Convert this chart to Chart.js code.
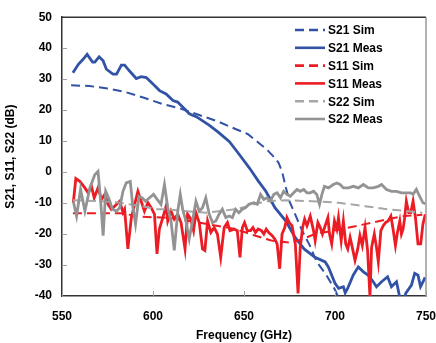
<!DOCTYPE html>
<html>
<head>
<meta charset="utf-8">
<script src="https://cdn.jsdelivr.net/npm/chart.js@4.4.1/dist/chart.umd.min.js"></script>
<style>
  html, body { margin: 0; padding: 0; background: #fff; }
</style>
</head>
<body>
<canvas id="myChart" width="436" height="343"></canvas>
<script>
// values (frequency in GHz, level in dB)
const s21SimFreq = [555, 565, 575, 585, 595, 605, 615, 625, 635, 645, 652, 658, 663, 667, 669, 671, 673, 675, 678, 682, 686, 690, 695, 700, 703];
const s21SimDb   = [28, 27.8, 27, 25.8, 24, 22, 20.5, 18.5, 16.5, 14, 12.3, 9.5, 7, 4.5, 3, 0, -5, -9.5, -13.5, -19, -23.5, -29, -33, -38, -42];

const s21MeasFreq = [556, 559, 561.6, 563.8, 566.8, 568, 570.4, 572.6, 574.4, 578, 580, 582.6, 584.4, 587, 590.8, 593.5, 596.3, 600, 603.6, 607.2, 611, 613.5, 616.3, 620, 624, 631, 636, 642, 647, 653, 658, 662, 667, 673, 678, 683, 689, 694.6, 696.4, 700, 702, 704.6, 705.6, 707, 710, 712.8, 715.6, 718.3, 721, 722.8, 725.6, 728.9, 731, 733.8, 735.6, 737, 739, 742, 743.8, 745.6, 747, 748.4, 749.5];
const s21MeasDb   = [32.1, 34.8, 36.4, 38, 35.5, 35.5, 37.2, 35.9, 33.2, 31.6, 31.6, 34.5, 34.5, 32.7, 30.2, 30.8, 30.5, 28.4, 26.3, 25.2, 23.1, 22.6, 21, 18.8, 17.8, 15.1, 12.8, 9.8, 6, 1.3, -3, -6.2, -11.5, -15.8, -21, -24.8, -27.5, -29, -30.7, -35.9, -37.5, -37, -39, -37.5, -33.3, -30.6, -32.2, -33.3, -35.4, -37, -35.4, -33.8, -37, -35.4, -40.5, -42, -39, -36.5, -32.7, -33.3, -37, -35.4, -34];

const s11SimFreq = [556, 582, 594, 609, 620, 632, 645.5, 655, 665, 674.6, 680, 689, 702, 716.5, 729, 738, 748];
const s11SimDb   = [-13.3, -13.3, -14.4, -14.8, -15.8, -17, -18.4, -20.3, -22.1, -22.7, -22.1, -20, -18.6, -16.8, -15.2, -14.2, -13.8];

const s11MeasFreq = [556.2, 557.6, 559.8, 562.6, 564.4, 566.2, 567.7, 569.8, 571.7, 573.5, 575.3, 577.1, 578.9, 581.7, 583.5, 584.4, 586.2, 588.1, 589.9, 591.7, 593.5, 595.3, 597.2, 599, 600.8, 602.2, 603.5, 605.4, 607.2, 608.1, 609.9, 611.7, 613.6, 615.4, 617.6, 619, 620.8, 622.3, 623.6, 625.4, 627.2, 628.5, 630, 631.8, 633.6, 635.4, 637.2, 639.1, 640.9, 642.3, 644.5, 646.3, 647.8, 649.1, 650.3, 651.8, 653.6, 654.9, 656.3, 657.8, 659.6, 660.9, 662.2, 663.6, 665.5, 666.9, 668.2, 669.6, 670.9, 672.4, 673.6, 674.9, 676.4, 678.2, 679.7, 680.9, 682.2, 683.3, 684.6, 686.4, 688.2, 689.1, 690.6, 691.9, 693.1, 694.6, 696.1, 697, 698.2, 699.7, 701, 701.9, 703.4, 704.6, 705.9, 707, 708.3, 709.5, 711, 712.5, 713.7, 715, 716.5, 717.9, 719.2, 720.1, 721.6, 722.8, 723.8, 725.2, 726.5, 727.8, 729.2, 730.7, 731.9, 733.2, 734.3, 735.6, 736.5, 737.4, 738.3, 739.2, 740.5, 741.6, 742.9, 744.2, 745.6, 747.1, 748.3, 749.6];
const s11MeasDb   = [-9.9, -2.1, -3, -5.1, -6.7, -4.6, -8.3, -5.1, -8.8, -7.2, -10.4, -12, -11, -9.4, -13.1, -12, -24.8, -14.7, -10.4, -6.2, -9.4, -12.6, -9.9, -11.5, -13.6, -26.4, -18.4, -14.7, -11, -15.8, -12.6, -15.2, -13.6, -16.3, -24.8, -13.6, -15.2, -18.9, -13.1, -16.3, -24.8, -25.3, -15.8, -19.5, -17.9, -20, -27.5, -17.9, -16.3, -18.9, -18.4, -18.9, -27.5, -17.9, -16.3, -18.9, -18.9, -17.9, -19.5, -18.4, -18.9, -20, -18.4, -19.5, -20.5, -21.6, -23.2, -31.2, -20, -17.9, -14.7, -16.3, -17.3, -23.2, -39.2, -24.3, -17.9, -15.2, -17.3, -14.2, -18.9, -22.1, -16.3, -17.9, -20, -17.3, -14.7, -20, -23.2, -15.8, -18.4, -14.7, -22.1, -15.8, -23.2, -24.8, -21.1, -24.3, -28.5, -24.8, -20.5, -23.7, -17.9, -25.3, -40.2, -24.3, -20, -24.3, -29, -18.9, -17.3, -16.3, -15.8, -14.2, -18.4, -23.7, -19.5, -15.8, -20, -18.4, -14.7, -9.4, -13.1, -13.1, -9.4, -14.7, -23.2, -23.2, -16.8, -13.6];

const s22SimFreq = [556, 572, 582, 587, 594, 601.7, 607, 618, 629, 645.5, 655, 661.9, 672.8, 687, 702, 716.5, 729, 748];
const s22SimDb   = [-9.1, -9.4, -9.9, -10.4, -11, -12, -12, -12.6, -13.1, -12, -10.5, -9.4, -9.1, -9.4, -9.9, -11, -12, -13.1];

const s22MeasFreq = [556.2, 558, 560.2, 562.6, 565.3, 568, 569.8, 571.1, 572.6, 574, 575.9, 577.7, 579.9, 581.7, 583.5, 585.3, 587.5, 589, 590.4, 592.3, 594.1, 595.9, 598.1, 600.3, 602.3, 604.4, 606.3, 608.1, 609.9, 611.7, 613.6, 615, 616.3, 618.1, 619.9, 621.7, 623.6, 625.4, 627.2, 629, 630.9, 632.7, 634.5, 636.3, 638.1, 640, 641.8, 643.6, 645.4, 647.2, 649.1, 650.9, 652.7, 655.4, 657.3, 659.1, 660.9, 662.7, 664.5, 666.4, 668.2, 670, 671.8, 673.6, 675.5, 677.3, 679.1, 680.9, 682.8, 684.6, 686.4, 688.2, 690, 691.5, 692.8, 694.2, 696.4, 699.1, 701, 702.8, 704.6, 707.4, 710.1, 712.8, 715.6, 718.3, 721, 723.8, 725.6, 728.3, 731, 733.8, 736.5, 739.2, 741.6, 742.9, 744.7, 746.5, 748.3, 749.6];
const s22MeasDb   = [-9.4, -14.2, -5.6, -12.6, -5.1, -0.9, 0.2, -8.3, -20.5, -6.2, -8.8, -12, -12.6, -11.5, -6.2, -3.5, -3, -11.5, -16.8, -7.8, -8.3, -9.4, -8.3, -7.2, -8.8, -10.4, -4, -11.5, -15.8, -25.3, -12.6, -7.2, -12, -15.8, -21.6, -15.8, -9.4, -12.6, -11.5, -8.3, -13.6, -16.3, -15.8, -13.6, -12, -14.7, -14.2, -14.7, -12, -13.1, -12, -11.5, -10.4, -9.9, -10.4, -7.2, -8.8, -8.3, -9.4, -7.2, -6.7, -8.3, -6.2, -7.2, -7.8, -6.7, -5.6, -6.2, -5.6, -6.7, -6.7, -6.2, -7.2, -10.4, -7.2, -4.6, -5.1, -4, -3.5, -4, -5.1, -5.1, -4.6, -5.1, -4, -5.1, -5.1, -4.6, -4, -5.6, -6.2, -6.2, -6.7, -6.7, -6.7, -7.2, -5.6, -7.8, -9.9, -10.2];

const xTicks = [550, 600, 650, 700, 750];
const yTicks = [-40, -30, -20, -10, 0, 10, 20, 30, 40, 50];

const BLUE = '#3252a5';
const RED = '#ec1c24';
const GRAY_SIM = '#a6a6a6';
const GRAY_MEAS = '#939393';
const FONT = 'Liberation Sans, Arial, sans-serif';

function pts(xs, ys) {
    return xs.map((x, i) => ({ x: x, y: ys[i] }));
}

function series(label, xs, ys, color, dashed, order) {
    return {
        label: label,
        data: pts(xs, ys),
        borderColor: color,
        backgroundColor: color,
        borderWidth: dashed ? 2 : 2.8,
        borderDash: dashed ? [9, 5] : [],
        pointRadius: 0,
        tension: 0,
        fill: false,
        order: order
    };
}

// legend drawn inside the plot, top right, like the original
const insideLegend = {
    id: 'insideLegend',
    afterDraw(chart) {
        const ctx = chart.ctx;
        ctx.save();
        chart.data.datasets.forEach((ds, i) => {
            const y = 30 + i * 17.8;
            ctx.strokeStyle = ds.borderColor;
            ctx.lineWidth = 2.6;
            ctx.setLineDash(ds.borderDash.length ? [9, 5] : []);
            ctx.beginPath();
            ctx.moveTo(295, y);
            ctx.lineTo(325, y);
            ctx.stroke();
            ctx.setLineDash([]);
            ctx.fillStyle = '#000';
            ctx.font = 'bold 12px ' + FONT;
            ctx.textBaseline = 'middle';
            ctx.textAlign = 'left';
            ctx.fillText(ds.label, 328, y + 1);
        });
        ctx.restore();
    }
};

// short inside tick marks and the top/right frame
const frameTicks = {
    id: 'frameTicks',
    afterDatasetsDraw(chart) {
        const ctx = chart.ctx;
        const a = chart.chartArea;
        const xs = chart.scales.x, ys = chart.scales.y;
        ctx.save();
        ctx.strokeStyle = '#a0a0a0';
        ctx.lineWidth = 1;
        yTicks.forEach(v => {
            const y = Math.round(ys.getPixelForValue(v)) + 0.5;
            ctx.beginPath(); ctx.moveTo(a.left, y); ctx.lineTo(a.left + 5, y); ctx.stroke();
        });
        xTicks.forEach(v => {
            const x = Math.round(xs.getPixelForValue(v)) + 0.5;
            ctx.beginPath(); ctx.moveTo(x, a.bottom); ctx.lineTo(x, a.bottom - 5); ctx.stroke();
        });
        ctx.strokeStyle = '#333';
        ctx.lineWidth = 1.5;
        ctx.beginPath(); ctx.moveTo(a.left, a.top); ctx.lineTo(a.right, a.top); ctx.stroke();
        ctx.strokeStyle = '#999';
        ctx.beginPath(); ctx.moveTo(a.right, a.top); ctx.lineTo(a.right, a.bottom); ctx.stroke();
        ctx.restore();
    }
};

const ctx = document.getElementById('myChart');

const aChart = new Chart(ctx, {
    type: 'line',
    data: {
        datasets: [
            series('S21 Sim', s21SimFreq, s21SimDb, BLUE, true, 5),
            series('S21 Meas', s21MeasFreq, s21MeasDb, BLUE, false, 4),
            series('S11 Sim', s11SimFreq, s11SimDb, RED, true, 3),
            series('S11 Meas', s11MeasFreq, s11MeasDb, RED, false, 2),
            series('S22 Sim', s22SimFreq, s22SimDb, GRAY_SIM, true, 1),
            series('S22 Meas', s22MeasFreq, s22MeasDb, GRAY_MEAS, false, 0)
        ]
    },
    options: {
        responsive: false,
        animation: false,
        layout: { padding: { top: 14, right: 0, left: 0, bottom: 0 } },
        plugins: {
            legend: { display: false },
            tooltip: { enabled: false }
        },
        scales: {
            x: {
                type: 'linear',
                min: 550,
                max: 750,
                afterFit: s => { s.height = 47; s.paddingRight = 10; },
                afterBuildTicks: s => { s.ticks = xTicks.map(v => ({ value: v })); },
                ticks: {
                    color: '#000',
                    padding: 13,
                    font: { family: FONT, size: 12, weight: 'bold' }
                },
                grid: { display: false, drawTicks: false },
                border: { display: true, color: '#333', width: 1.5 },
                title: {
                    display: true,
                    text: 'Frequency (GHz)',
                    color: '#000',
                    font: { family: FONT, size: 12, weight: 'bold' },
                    padding: { top: 0, bottom: 0 }
                }
            },
            y: {
                min: -40,
                max: 50,
                afterFit: s => { s.width = 62; },
                afterBuildTicks: s => { s.ticks = yTicks.map(v => ({ value: v })); },
                ticks: {
                    color: '#000',
                    padding: 10,
                    font: { family: FONT, size: 12, weight: 'bold' }
                },
                grid: { display: false, drawTicks: false },
                border: { display: true, color: '#333', width: 1.5 },
                title: {
                    display: true,
                    text: 'S21, S11, S22 (dB)',
                    color: '#000',
                    font: { family: FONT, size: 12, weight: 'bold' },
                    padding: { top: 3, bottom: 0 }
                }
            }
        }
    },
    plugins: [insideLegend, frameTicks]
});
</script>
</body>
</html>
